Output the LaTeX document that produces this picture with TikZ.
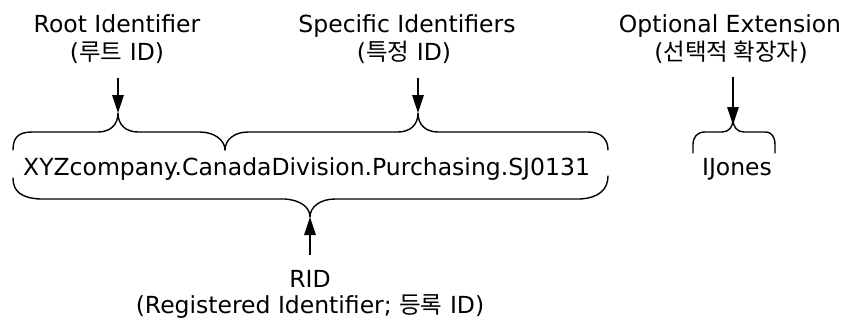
\documentclass[tikz,border=0pt]{standalone}
\usepackage{fontspec}
\setmainfont{DejaVu Sans}
\newfontfamily\krfont{Noto Sans CJK KR}
\usetikzlibrary{arrows.meta}
\newcommand{\kr}[1]{{\krfont #1}}
\begin{document}
\begin{tikzpicture}[x=1pt,y=-1pt,
  lbl/.style={anchor=base,inner sep=0pt,font=\fontsize{23.5}{28}\selectfont},
  brace/.style={line width=1.4pt,line cap=round,line join=round},
  ptr/.style={line width=1.4pt,-{Triangle[length=18pt,width=11.5pt]}}]
\useasboundingbox (0,0) rectangle (845,325);
% titles
\node[lbl] (root1) at (117,32) {Root Identifier};
\node[lbl] (root2) at (117,60) {(\kr{루트} ID)};
\node[lbl] (spec1) at (407,32) {Specific Identifiers};
\node[lbl] (spec2) at (404,60) {(\kr{특정} ID)};
\node[lbl] (opt1) at (730,32) {Optional Extension};
\node[lbl] (opt2) at (731,60) {(\kr{선택적 확장자})};
% main strings
\node[lbl] (rid) at (306.5,175) {XYZcompany.CanadaDivision.Purchasing.SJ0131};
\node[lbl] (ext) at (737,175) {IJones};
\node[lbl] (ridl1) at (310,287) {RID};
\node[lbl] (ridl2) at (310,313) {(Registered Identifier; \kr{등록} ID)};
% brace tips and arrow tails
\coordinate (rtip) at (118,113);
\coordinate (stip) at (418,113);
\coordinate (etip) at (733,119);
\coordinate (btip) at (310,217);
\coordinate (rtail) at (118,78);
\coordinate (stail) at (418,78);
\coordinate (etail) at (733,77);
\coordinate (btail) at (310,255);
% root brace
\draw[brace] (13,150) .. controls (13,138) and (18,132) .. (32,132) -- (98,132)
  .. controls (110,132) and (118,125) .. (rtip)
  .. controls (118,125) and (126,132) .. (138,132) -- (200,132)
  .. controls (214,132) and (225,140) .. (225,150);
% specific brace
\draw[brace] (225,150) .. controls (225,140) and (234,132) .. (248,132) -- (398,132)
  .. controls (410,132) and (418,125) .. (stip)
  .. controls (418,125) and (426,132) .. (438,132) -- (588,132)
  .. controls (602,132) and (608,140) .. (608,150);
% bottom brace
\draw[brace] (13,178) .. controls (13,192) and (22,198) .. (40,199) -- (285,199)
  .. controls (300,200) and (310,207) .. (btip)
  .. controls (310,207) and (320,199) .. (335,199) -- (580,199)
  .. controls (598,198) and (608,190) .. (608,176);
% extension brace
\draw[brace] (693,153) -- (693,145) .. controls (693,137) and (697,132) .. (705,132) -- (722,132)
  .. controls (729,132) and (733,127) .. (etip)
  .. controls (733,127) and (737,132) .. (744,132) -- (765,132)
  .. controls (772,132) and (775,137) .. (775,145) -- (775,153);
% arrows
\draw[ptr] (rtail) -- (rtip);
\draw[ptr] (stail) -- (stip);
\draw[ptr] (etail) -- ([yshift=-6pt]etip);
\draw[ptr] (btail) -- (btip);
\end{tikzpicture}
\end{document}
